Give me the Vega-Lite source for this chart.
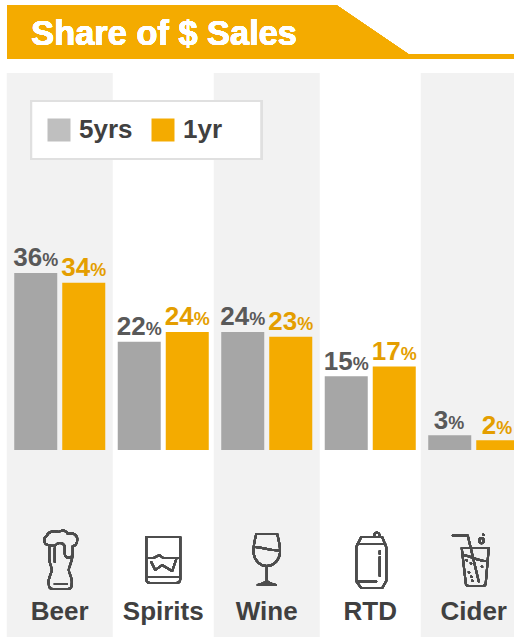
{
  "$schema": "https://vega.github.io/schema/vega-lite/v6.json",
  "width": 514,
  "height": 637,
  "padding": 0,
  "autosize": {"type": "none"},
  "background": "white",
  "config": {"view": {"stroke": null}, "font": "Liberation Sans"},
  "data": {
    "values": [
      {"category": "Beer", "series": "5yrs", "share": 36},
      {"category": "Beer", "series": "1yr", "share": 34},
      {"category": "Spirits", "series": "5yrs", "share": 22},
      {"category": "Spirits", "series": "1yr", "share": 24},
      {"category": "Wine", "series": "5yrs", "share": 24},
      {"category": "Wine", "series": "1yr", "share": 23},
      {"category": "RTD", "series": "5yrs", "share": 15},
      {"category": "RTD", "series": "1yr", "share": 17},
      {"category": "Cider", "series": "5yrs", "share": 3},
      {"category": "Cider", "series": "1yr", "share": 2}
    ]
  },
  "encoding": {
    "x": {
      "field": "category",
      "type": "nominal",
      "sort": null,
      "scale": {"type": "band", "domain": ["Beer", "Spirits", "Wine", "RTD", "Cider"], "range": [8, 525.5], "paddingInner": 0, "paddingOuter": 0},
      "axis": {"title": null, "orient": "bottom", "offset": -39, "domain": false, "ticks": false, "labelAngle": 0, "labelPadding": 0, "labelFontSize": 26, "labelFontWeight": "bold", "labelColor": "#404040", "labelFont": "Liberation Sans", "labelOverlap": false, "labelBaseline": "top", "zindex": 1}
    },
    "y": {
      "type": "quantitative",
      "scale": {"domain": [-38, 91.46], "nice": false, "zero": false},
      "axis": null
    }
  },
  "layer": [
    {
      "description": "Alternating column shading behind Beer, Wine and Cider",
      "data": {"values": [{"category": "Beer"}, {"category": "Wine"}, {"category": "Cider"}]},
      "mark": {"type": "bar", "width": 106, "color": "#f2f2f2"},
      "encoding": {"y": {"datum": 76.6, "type": "quantitative"}, "y2": {"datum": -38}}
    },
    {
      "description": "Header banner with a sloped right edge",
      "mark": {"type": "point", "filled": true, "opacity": 1, "size": 4, "color": "#f4ab00", "shape": "M-52.5,-27 L276.5,-27 L348.5,22 L454.5,22 L454.5,27 L-52.5,27 Z"},
      "encoding": {"x": {"datum": "Beer"}, "y": {"datum": 84.96, "type": "quantitative"}}
    },
    {
      "description": "Header title",
      "mark": {"type": "text", "text": "Share of $ Sales", "align": "left", "baseline": "alphabetic", "dx": -28.5, "fontSize": 34.4, "fontWeight": "bold", "color": "white", "font": "Liberation Sans"},
      "encoding": {"x": {"datum": "Beer"}, "y": {"datum": 82.4, "type": "quantitative"}}
    },
    {
      "description": "Frame behind the legend",
      "mark": {"type": "point", "filled": true, "opacity": 1, "size": 4, "fill": "white", "stroke": "#e0e0e0", "strokeWidth": 2, "shape": "M-28.5,-29 L201.5,-29 L201.5,29 L-28.5,29 Z"},
      "encoding": {"x": {"datum": "Beer"}, "y": {"datum": 65.04, "type": "quantitative"}}
    },
    {
      "description": "Paired share bars",
      "mark": {"type": "bar"},
      "encoding": {
        "xOffset": {"field": "series", "type": "nominal", "sort": null, "scale": {"domain": ["5yrs", "1yr"], "paddingInner": 0.104, "paddingOuter": 0.13}},
        "y": {"field": "share", "type": "quantitative"},
        "y2": {"datum": 0},
        "color": {
          "condition": {"test": "datum.series === '5yrs'", "value": "#a6a6a6"},
          "field": "series",
          "type": "nominal",
          "scale": {"domain": ["5yrs", "1yr"], "range": ["#bfbfbf", "#f4ab00"]},
          "legend": {"title": null, "orient": "none", "legendX": 46, "legendY": 117, "direction": "horizontal", "columns": 2, "symbolType": "square", "symbolSize": 529, "symbolStrokeWidth": 0, "symbolOpacity": 1, "labelFontSize": 26, "labelFontWeight": "bold", "labelColor": "#404040", "labelFont": "Liberation Sans", "labelOffset": 7, "columnPadding": 17, "padding": 0}
        }
      }
    },
    {
      "description": "Two-digit value figures",
      "transform": [{"filter": "datum.share >= 10"}],
      "mark": {"type": "text", "align": "right", "baseline": "alphabetic", "dx": 6.5, "dy": -6.5, "fontSize": 26, "fontWeight": "bold", "font": "Liberation Sans"},
      "encoding": {
        "xOffset": {"field": "series", "type": "nominal", "sort": null, "scale": {"domain": ["5yrs", "1yr"], "paddingInner": 0.104, "paddingOuter": 0.13}},
        "y": {"field": "share", "type": "quantitative"},
        "text": {"field": "share", "type": "quantitative", "format": ".0f"},
        "color": {"condition": {"test": "datum.series === '1yr'", "value": "#e49e00"}, "value": "#595959"}
      }
    },
    {
      "description": "Percent signs after two-digit figures",
      "transform": [{"filter": "datum.share >= 10"}],
      "mark": {"type": "text", "text": "%", "align": "left", "baseline": "alphabetic", "dx": 6.5, "dy": -6.5, "fontSize": 18, "fontWeight": "bold", "font": "Liberation Sans"},
      "encoding": {
        "xOffset": {"field": "series", "type": "nominal", "sort": null, "scale": {"domain": ["5yrs", "1yr"], "paddingInner": 0.104, "paddingOuter": 0.13}},
        "y": {"field": "share", "type": "quantitative"},
        "color": {"condition": {"test": "datum.series === '1yr'", "value": "#e49e00"}, "value": "#595959"}
      }
    },
    {
      "description": "Single-digit value figures",
      "transform": [{"filter": "datum.share < 10"}],
      "mark": {"type": "text", "align": "right", "baseline": "alphabetic", "dx": -1.5, "dy": -6.5, "fontSize": 26, "fontWeight": "bold", "font": "Liberation Sans"},
      "encoding": {
        "xOffset": {"field": "series", "type": "nominal", "sort": null, "scale": {"domain": ["5yrs", "1yr"], "paddingInner": 0.104, "paddingOuter": 0.13}},
        "y": {"field": "share", "type": "quantitative"},
        "text": {"field": "share", "type": "quantitative", "format": ".0f"},
        "color": {"condition": {"test": "datum.series === '1yr'", "value": "#e49e00"}, "value": "#595959"}
      }
    },
    {
      "description": "Percent signs after single-digit figures",
      "transform": [{"filter": "datum.share < 10"}],
      "mark": {"type": "text", "text": "%", "align": "left", "baseline": "alphabetic", "dx": -1.5, "dy": -6.5, "fontSize": 18, "fontWeight": "bold", "font": "Liberation Sans"},
      "encoding": {
        "xOffset": {"field": "series", "type": "nominal", "sort": null, "scale": {"domain": ["5yrs", "1yr"], "paddingInner": 0.104, "paddingOuter": 0.13}},
        "y": {"field": "share", "type": "quantitative"},
        "color": {"condition": {"test": "datum.series === '1yr'", "value": "#e49e00"}, "value": "#595959"}
      }
    },
    {
      "description": "Beer glass icon",
      "mark": {"type": "point", "filled": false, "opacity": 1, "size": 4, "color": "#4d4d4d", "strokeWidth": 2, "strokeCap": "round", "strokeJoin": "round", "shape": "M-12,-15 C-16,-16 -17,-22 -13,-24 C-12,-28 -6,-30 -1,-28 C3,-31 7,-29 8,-26 C13,-28 18,-25 17.5,-20 C17.5,-16 15,-14 13,-14 L13,-6 C12,-1 6,-1 5,-6 L5,-14 C3,-18 -2,-18 -4,-15 C-7,-13 -10,-15 -12,-15 Z M-10.5,-14 L-10.5,-1 C-10.5,4 -7,8 -8,11 C-9,15 -12,18 -11,24 C-11,28 -9,29 -7,29 L8,29 C11,29 12,27 12,24 C13,18 9,13 9,10 C9,6 12.5,3 13,-6 M-5,-12 L-5,2 M-5,24 L7,24"},
      "encoding": {"x": {"datum": "Beer"}, "y": {"datum": -22.36, "type": "quantitative"}}
    },
    {
      "description": "Tumbler icon",
      "mark": {"type": "point", "filled": false, "opacity": 1, "size": 4, "color": "#4d4d4d", "strokeWidth": 2, "strokeCap": "round", "strokeJoin": "round", "shape": "M-17,-23 L17,-23 L17,19 Q17,23 13,23 L-13,23 Q-17,23 -17,19 Z M-17,17 L17,17 M-17,-2 L-10,-2 L-4,-5 L0,-2 L7,-2 L17,-2 M-12,2 L-8,10 L-1,5 L9,11 L13,-1"},
      "encoding": {"x": {"datum": "Spirits"}, "y": {"datum": -22.36, "type": "quantitative"}}
    },
    {
      "description": "Wine glass icon",
      "mark": {"type": "point", "filled": false, "opacity": 1, "size": 4, "color": "#4d4d4d", "strokeWidth": 2, "strokeCap": "round", "strokeJoin": "round", "shape": "M-10.5,-26 L10.5,-26 C13,-16 14,-10 13,-6 C12,1 6,6 0,6 C-6,6 -12,1 -13,-6 C-14,-10 -13,-16 -10.5,-26 Z M-13,-13 C-5,-14 3,-8 13,-10 M0,6 L0,23 M-9,25 L9,25 M-9,25 C-5,24 -2,23 0,21 C2,23 5,24 9,25"},
      "encoding": {"x": {"datum": "Wine"}, "y": {"datum": -22.36, "type": "quantitative"}}
    },
    {
      "description": "Drink can icon",
      "mark": {"type": "point", "filled": false, "opacity": 1, "size": 4, "color": "#4d4d4d", "strokeWidth": 2, "strokeCap": "round", "strokeJoin": "round", "shape": "M-9,-23 L12,-23 L16,-13 L16,21 L12,28 L-9,28 L-14,21 L-14,-13 Z M-13,-16 L15,-16 M-13,21.5 L6,21.5 M9.5,-9 L9.5,-6 M9.5,-3 L9.5,16 M4,-23 C3,-29 10,-29 9.5,-23"},
      "encoding": {"x": {"datum": "RTD"}, "y": {"datum": -22.36, "type": "quantitative"}}
    },
    {
      "description": "Glass with straw icon",
      "mark": {"type": "point", "filled": false, "opacity": 1, "size": 4, "color": "#4d4d4d", "strokeWidth": 2, "strokeCap": "round", "strokeJoin": "round", "shape": "M-12,-12 L15,-12 L12,23 Q12,26 9,26 L-5,26 Q-8,26 -8,23 Z M-21,-24.5 L-6,-24.5 L5,21.5 M-11,-5 C-5,-5 6,2 14,1 M5.5,-19.5 C5.5,-23 10,-23 10,-19.5 C10,-16 5.5,-16 5.5,-19.5 Z M9.5,-25.5 L10,-25 M-7.5,0 L-7,0.5 M-3,3 L-2.5,3.5 M-5,12 L-4.5,12.5 M-2.5,16.5 L-2,17 M-1.5,20.5 L-1,21 M8,6.5 L8.5,7"},
      "encoding": {"x": {"datum": "Cider"}, "y": {"datum": -22.36, "type": "quantitative"}}
    }
  ]
}
